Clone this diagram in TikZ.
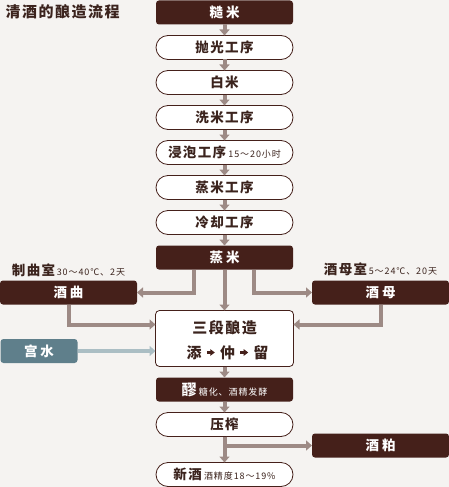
\documentclass[tikz,border=0pt]{standalone}
\usepackage{fontspec}
\setmainfont[LetterSpace=10]{Noto Sans CJK SC}
\usepackage{tikz}
\usetikzlibrary{positioning, arrows.meta, calc}
\definecolor{sakebg}{HTML}{F5F3F1}
\definecolor{sakedark}{HTML}{45201A}
\definecolor{sakeink}{HTML}{3B231D}
\definecolor{sakearrow}{HTML}{9D8A85}
\definecolor{saketeal}{HTML}{5F7F8B}
\definecolor{sakewater}{HTML}{ABBEC4}
\newcommand{\mainfs}{\fontsize{13.5}{15}\selectfont\bfseries}
\newcommand{\bigfs}{\fontsize{15}{17}\selectfont\bfseries}
\newcommand{\notefs}{\fontsize{9}{10}\selectfont\mdseries}
\newcommand{\gapk}{\kern3pt}

\begin{document}
\begin{tikzpicture}[
  x=1pt, y=-1pt,
  node distance=11pt,
  darkbox/.style={rectangle, rounded corners=3pt, fill=sakedark, text=white, font=\mainfs, minimum width=137pt, minimum height=24pt, inner sep=0pt, outer sep=0pt},
  pill/.style={rectangle, rounded corners=12pt, draw=sakedark, line width=0.8pt, fill=white, text=sakeink, font=\mainfs, minimum width=137pt, minimum height=24pt, inner sep=0pt, outer sep=0pt},
  flow/.style={-{Triangle[length=6pt, width=10pt]}, draw=sakearrow, line width=4pt},
  smallflow/.style={-{Triangle[length=4.5pt, width=6.5pt]}, draw=sakedark, line width=2.6pt, shorten <=5pt, shorten >=5pt},
]
\useasboundingbox (0,0) rectangle (449,487);
\fill[sakebg] (0,0) rectangle (449,487);

\node[anchor=west, text=sakeink, font=\fontsize{15}{17}\selectfont\bfseries] (title) at (2,12) {清酒的酿造流程};

% main column
\node[darkbox] (zaomi) at (224.5,12.5) {糙\gapk 米};
\node[pill, below=of zaomi] (paoguang) {抛光工序};
\node[pill, below=of paoguang] (baimi) {白米};
\node[pill, below=of baimi] (ximi) {洗米工序};
\node[pill, below=of ximi] (jinpao) {浸泡工序\,{\notefs 15～20小时}};
\node[pill, below=of jinpao] (zhengmigx) {蒸米工序};
\node[pill, below=of zhengmigx] (lengque) {冷却工序};
\node[darkbox, below=of lengque] (zhengmi) {蒸\gapk 米};

% side boxes
\node[darkbox, left=19pt of zhengmi, yshift=-35pt] (jiuqu) {酒\gapk 曲};
\node[darkbox, right=19pt of zhengmi, yshift=-35pt] (jiumu) {酒\gapk 母};
\node[above=4pt of jiuqu, text=sakeink, inner sep=0pt] (quroom) {{\mainfs 制曲室}\,{\notefs 30～40℃、2天}};
\node[above=4pt of jiumu, text=sakeink, inner sep=0pt] (muroom) {{\mainfs 酒母室}\,{\notefs 5～24℃、20天}};

\node[rectangle, rounded corners=4pt, draw=sakedark, line width=0.8pt, fill=white, outer sep=0pt, minimum width=138pt, minimum height=56pt, below=41pt of zhengmi] (sandan) {};
\node[text=sakeink, font=\bigfs, inner sep=0pt] (sandantitle) at ([yshift=11pt]sandan.center) {三段酿造};
\node[text=sakeink, font=\bigfs, inner sep=0pt] (zhong) at ([xshift=3pt, yshift=-14pt]sandan.center) {仲};
\node[text=sakeink, font=\bigfs, inner sep=0pt, left=18pt of zhong] (tian) {添};
\node[text=sakeink, font=\bigfs, inner sep=0pt, right=18pt of zhong] (liu) {留};

\node[darkbox, fill=saketeal, minimum width=77pt, left=78pt of sandan, yshift=-12.5pt] (gongshui) {宫\gapk 水};

\node[darkbox, below=of sandan] (lao) {{\bigfs 醪}\,{\notefs 糖化、酒精发酵}};
\node[pill, below=of lao] (yazha) {压榨};
\node[pill, below=26pt of yazha] (xinjiu) {新酒\,{\notefs 酒精度18～19\%}};
\node[darkbox, right=19pt of yazha, yshift=-21pt] (jiupo) {酒\gapk 粕};

% arrows
\foreach \a/\b in {zaomi/paoguang, paoguang/baimi, baimi/ximi, ximi/jinpao, jinpao/zhengmigx, zhengmigx/lengque, lengque/zhengmi, zhengmi/sandan, sandan/lao, lao/yazha, yazha/xinjiu}
  \draw[flow] (\a.south) -- (\b.north);
\draw[flow] ([xshift=-31pt]zhengmi.south) |- (jiuqu.east);
\draw[flow] ([xshift=29pt]zhengmi.south) |- (jiumu.west);
\draw[flow] (jiuqu.south) |- ([yshift=14pt]sandan.west);
\draw[flow] (jiumu.south) |- ([yshift=14pt]sandan.east);
\draw[flow, draw=sakewater] (gongshui.east) -- (gongshui.east -| sandan.west);
\draw[flow] (yazha.south) |- (jiupo.west);
\draw[smallflow] (tian) -- (zhong);
\draw[smallflow] (zhong) -- (liu);
\end{tikzpicture}
\end{document}
